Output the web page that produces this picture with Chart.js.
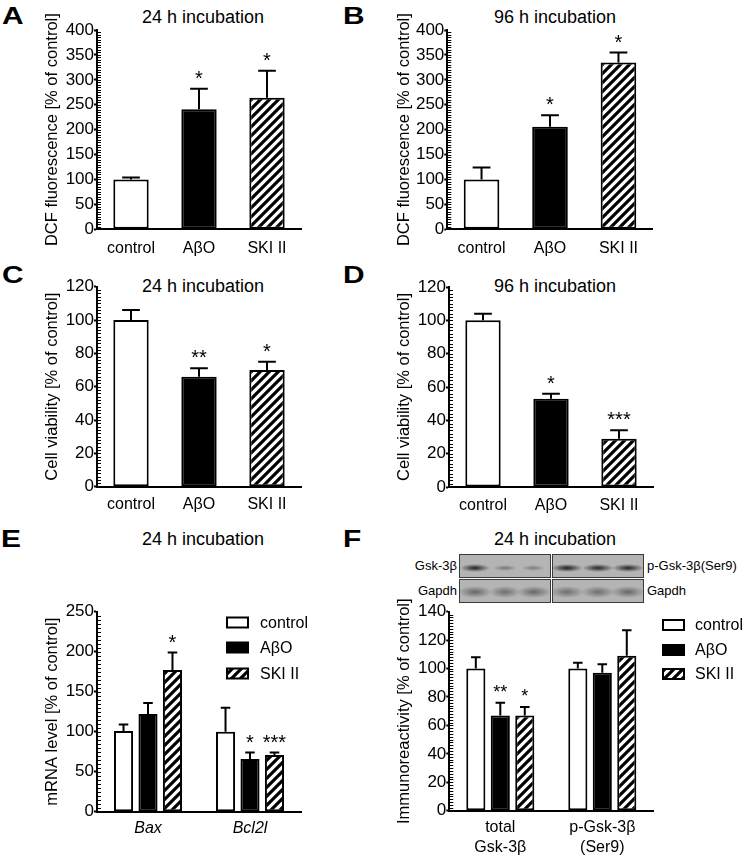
<!DOCTYPE html>
<html>
<head>
<meta charset="utf-8">
<script src="https://cdn.jsdelivr.net/npm/chart.js@4.4.1/dist/chart.umd.min.js"></script>
<style>
  body { margin: 0; background: #fff; }
  #fig { position: relative; width: 743px; height: 856px; overflow: hidden; font-family: 'Liberation Sans', Arial, sans-serif; color: #000; }
  #fig canvas { position: absolute; }
  .lbl { position: absolute; font-weight: bold; font-size: 23px; line-height: 23px; transform: scaleX(1.3); transform-origin: 0 0; }
  .ttl { position: absolute; font-size: 18px; line-height: 18px; white-space: nowrap; transform: translateX(-50%); }
  .bl { position: absolute; font-size: 13px; line-height: 13px; white-space: nowrap; }
  .blot { position: absolute; box-sizing: border-box; border: 1px solid #3a3a3a; background-color: #b4b4b4; }
</style>
</head>
<body>
<div id="fig">
  <div class="lbl" style="left:2px;top:5px">A</div>
  <div class="lbl" style="left:343px;top:5px">B</div>
  <div class="lbl" style="left:2px;top:264px">C</div>
  <div class="lbl" style="left:343px;top:264px">D</div>
  <div class="lbl" style="left:1px;top:528px">E</div>
  <div class="lbl" style="left:343px;top:528px">F</div>

  <div class="ttl" style="left:203px;top:8px">24 h incubation</div>
  <div class="ttl" style="left:555px;top:8px">96 h incubation</div>
  <div class="ttl" style="left:203px;top:277px">24 h incubation</div>
  <div class="ttl" style="left:555px;top:277px">96 h incubation</div>
  <div class="ttl" style="left:203px;top:530px">24 h incubation</div>
  <div class="ttl" style="left:555px;top:530px">24 h incubation</div>

  <!-- western blot strips -->
  <div class="blot" style="left:459px;top:554px;width:92px;height:24px;
    background-image:
      radial-gradient(ellipse 15px 4px at 15px 13px, rgba(25,25,25,.95), rgba(25,25,25,0)),
      radial-gradient(ellipse 12px 3px at 45px 13px, rgba(40,40,40,.45), rgba(40,40,40,0)),
      radial-gradient(ellipse 12px 3px at 73px 13px, rgba(40,40,40,.4), rgba(40,40,40,0));"></div>
  <div class="blot" style="left:552px;top:554px;width:92px;height:24px;
    background-image:
      radial-gradient(ellipse 16px 4px at 14px 13px, rgba(20,20,20,.95), rgba(20,20,20,0)),
      radial-gradient(ellipse 16px 4px at 45px 13px, rgba(20,20,20,.9), rgba(20,20,20,0)),
      radial-gradient(ellipse 16px 4px at 75px 13px, rgba(20,20,20,.9), rgba(20,20,20,0));"></div>
  <div class="blot" style="left:459px;top:579px;width:92px;height:24px;
    background-image:
      radial-gradient(ellipse 17px 6px at 15px 12px, rgba(50,50,50,.6), rgba(50,50,50,0)),
      radial-gradient(ellipse 16px 6px at 45px 12px, rgba(50,50,50,.55), rgba(50,50,50,0)),
      radial-gradient(ellipse 17px 6px at 74px 12px, rgba(50,50,50,.6), rgba(50,50,50,0));"></div>
  <div class="blot" style="left:552px;top:579px;width:92px;height:24px;
    background-image:
      radial-gradient(ellipse 17px 6px at 14px 12px, rgba(50,50,50,.55), rgba(50,50,50,0)),
      radial-gradient(ellipse 17px 6px at 45px 12px, rgba(50,50,50,.55), rgba(50,50,50,0)),
      radial-gradient(ellipse 17px 6px at 75px 12px, rgba(50,50,50,.6), rgba(50,50,50,0));"></div>
  <div class="bl" style="right:286px;top:559px">Gsk-3β</div>
  <div class="bl" style="right:286px;top:584px">Gapdh</div>
  <div class="bl" style="left:647px;top:559px">p-Gsk-3β(Ser9)</div>
  <div class="bl" style="left:647px;top:584px">Gapdh</div>
</div>

<script>
"use strict";

// DATA -----------------------
const groups = ['control', 'AβO', 'SKI II'];

// A: DCF fluorescence, 24 h
const dcf24Mean = [100, 241, 264];
const dcf24Sem = [4, 41, 54];
const dcf24Stars = ['', '*', '*'];

// B: DCF fluorescence, 96 h
const dcf96Mean = [100, 206, 335];
const dcf96Sem = [24, 23, 20];
const dcf96Stars = ['', '*', '*'];

// C: cell viability, 24 h
const via24Mean = [100, 66, 70];
const via24Sem = [6, 5, 5];
const via24Stars = ['', '**', '*'];

// D: cell viability, 96 h
const via96Mean = [100, 53, 29];
const via96Sem = [4, 3, 5];
const via96Stars = ['', '*', '***'];

// E: mRNA level
const genes = ['Bax', 'Bcl2l'];
const mrnaControl = [101, 100];
const mrnaControlSem = [8, 30];
const mrnaAbo = [122, 66];
const mrnaAboSem = [14, 8];
const mrnaSki = [177, 71];
const mrnaSkiSem = [22, 3];
const mrnaStars = [['', ''], ['', '*'], ['*', '***']];

// F: immunoreactivity
const proteins = [['total', 'Gsk-3β'], ['p-Gsk-3β', '(Ser9)']];
const gskControl = [100, 100];
const gskControlSem = [8, 4];
const gskAbo = [67, 97];
const gskAboSem = [9, 6];
const gskSki = [67, 109];
const gskSkiSem = [6, 18];
const gskStars = [['', ''], ['**', ''], ['*', '']];

// y tick labels
const dcfTicks = [0, 50, 100, 150, 200, 250, 300, 350, 400];
const viaTicks = [0, 20, 40, 60, 80, 100, 120];
const mrnaTicks = [0, 50, 100, 150, 200, 250];
const gskTicks = [0, 20, 40, 60, 80, 100, 120, 140];

// STYLE -----------------------
Chart.defaults.font.family = "'Liberation Sans', Arial, sans-serif";
Chart.defaults.color = '#000';

const fig = document.getElementById('fig');

// diagonal black/white hatch used for the SKI II bars
function makeHatch() {
  const c = document.createElement('canvas');
  c.width = 9;
  c.height = 9;
  const g = c.getContext('2d');
  g.fillStyle = '#fff';
  g.fillRect(0, 0, 9, 9);
  g.strokeStyle = '#000';
  g.lineWidth = 3.2;
  g.beginPath();
  g.moveTo(-1, 10); g.lineTo(10, -1);
  g.moveTo(-5.5, 5.5); g.lineTo(5.5, -5.5);
  g.moveTo(3.5, 14.5); g.lineTo(14.5, 3.5);
  g.stroke();
  return g.createPattern(c, 'repeat');
}
const hatch = makeHatch();
const fills = ['#ffffff', '#000000', hatch];

// error bars, significance stars, minor ticks and legend
const extras = {
  id: 'extras',
  afterDatasetsDraw(chart, args, opts) {
    const { ctx, chartArea, scales: { y } } = chart;
    ctx.save();

    // minor ticks on the inside of the y axis
    const ticks = opts.ticks;
    const step = (ticks[1] - ticks[0]) / 10;
    ctx.strokeStyle = '#000';
    ctx.lineWidth = 1;
    ctx.beginPath();
    for (let v = ticks[0] + step; v < ticks[ticks.length - 1]; v += step) {
      const py = Math.round(y.getPixelForValue(v)) + 0.5;
      ctx.moveTo(chartArea.left, py);
      ctx.lineTo(chartArea.left + 4, py);
    }
    ctx.stroke();

    // error bars (upper only) and stars
    ctx.lineWidth = 2;
    ctx.fillStyle = '#000';
    ctx.textAlign = 'center';
    ctx.textBaseline = 'alphabetic';
    ctx.font = opts.starSize + "px 'Liberation Sans', Arial, sans-serif";
    chart.data.datasets.forEach((ds, i) => {
      chart.getDatasetMeta(i).data.forEach((bar, j) => {
        const top = y.getPixelForValue(ds.data[j] + ds.sem[j]);
        const half = bar.width / 4;
        ctx.beginPath();
        ctx.moveTo(bar.x, bar.y);
        ctx.lineTo(bar.x, top);
        ctx.moveTo(bar.x - half, top);
        ctx.lineTo(bar.x + half, top);
        ctx.stroke();
        if (ds.stars[j]) {
          ctx.fillText(ds.stars[j], bar.x, top - 15.5 + 0.58 * opts.starSize);
        }
      });
    });

    // legend
    const lg = opts.legend;
    if (lg) {
      ctx.textAlign = 'left';
      ctx.textBaseline = 'middle';
      ctx.font = "16px 'Liberation Sans', Arial, sans-serif";
      chart.data.datasets.forEach((ds, i) => {
        const bx = lg.x - opts.box[0];
        const by = lg.rows[i] - opts.box[1];
        ctx.fillStyle = ds.backgroundColor;
        ctx.fillRect(bx, by - 5, 23, 10);
        ctx.lineWidth = 2;
        ctx.strokeRect(bx + 1, by - 5, 21, 10);
        ctx.fillStyle = '#000';
        ctx.fillText(ds.label, lg.textX - opts.box[0], by + 1);
      });
    }
    ctx.restore();
  }
};

// build one panel; box = canvas [left, top, w, h], plot = [left, top, right, bottom] in page px
function makePanel(p) {
  const [cl, ct, cw, ch] = p.box;
  const [pl, pt, pr, pb] = p.plot;
  const canvas = document.createElement('canvas');
  canvas.width = cw;
  canvas.height = ch;
  canvas.style.left = cl + 'px';
  canvas.style.top = ct + 'px';
  fig.appendChild(canvas);

  return new Chart(canvas, {
    type: 'bar',
    data: { labels: p.labels, datasets: p.datasets },
    options: {
      responsive: false,
      animation: false,
      devicePixelRatio: 1,
      layout: { padding: { left: 0, top: pt - ct, right: cl + cw - pr, bottom: 0 } },
      datasets: {
        bar: {
          borderColor: '#000',
          borderWidth: 2,
          borderSkipped: false,
          categoryPercentage: p.catPct,
          barPercentage: p.barPct
        }
      },
      plugins: {
        legend: { display: false },
        tooltip: { enabled: false },
        extras: { ticks: p.ticks, starSize: p.starSize || 20, legend: p.legend, box: p.box }
      },
      scales: {
        x: {
          grid: { display: false, drawTicks: false },
          border: { display: true, color: '#000', width: 2 },
          ticks: { color: '#000', padding: p.xPad, font: { size: 16, style: p.xStyle || 'normal', lineHeight: 1.25 } },
          afterFit: s => { s.height = ct + ch - pb; }
        },
        y: {
          min: p.ticks[0],
          max: p.ticks[p.ticks.length - 1],
          ticks: { stepSize: p.ticks[1] - p.ticks[0], color: '#000', padding: 0, font: { size: 17 } },
          grid: { display: true, drawOnChartArea: false, drawTicks: true, tickLength: 3, tickWidth: 2, tickColor: '#000' },
          border: { display: true, color: '#000', width: 2 },
          title: {
            display: true,
            text: p.yTitle,
            color: '#000',
            font: { size: 16.5 },
            padding: { top: p.titleX - cl - 9.9, bottom: 0 }
          },
          afterFit: s => { s.width = pl - cl; }
        }
      }
    },
    plugins: [extras]
  });
}

function singleSet(mean, sem, stars) {
  return [{ label: 'mean', data: mean, sem: sem, stars: stars, backgroundColor: fills }];
}

function groupSets(means, sems, stars) {
  return groups.map((g, i) => ({
    label: g, data: means[i], sem: sems[i], stars: stars[i], backgroundColor: fills[i]
  }));
}

// PANELS -----------------------
makePanel({
  box: [0, 0, 330, 266], plot: [97, 30, 301, 229.3], titleX: 52, xPad: 9.5,
  labels: groups, ticks: dcfTicks, catPct: 1, barPct: 0.52,
  yTitle: 'DCF fluorescence [% of control]',
  datasets: singleSet(dcf24Mean, dcf24Sem, dcf24Stars)
});

makePanel({
  box: [370, 0, 330, 266], plot: [447.3, 30, 652.7, 229.3], titleX: 404, xPad: 9.5,
  labels: groups, ticks: dcfTicks, catPct: 1, barPct: 0.52,
  yTitle: 'DCF fluorescence [% of control]',
  datasets: singleSet(dcf96Mean, dcf96Sem, dcf96Stars)
});

makePanel({
  box: [0, 272, 330, 248], plot: [97, 286.7, 301, 486.7], titleX: 52, xPad: 8,
  labels: groups, ticks: viaTicks, catPct: 1, barPct: 0.52,
  yTitle: 'Cell viability [% of control]',
  datasets: singleSet(via24Mean, via24Sem, via24Stars)
});

makePanel({
  box: [370, 272, 330, 248], plot: [449, 287, 653, 487], titleX: 404, xPad: 8.4,
  labels: groups, ticks: viaTicks, catPct: 1, barPct: 0.52,
  yTitle: 'Cell viability [% of control]',
  datasets: singleSet(via96Mean, via96Sem, via96Stars)
});

makePanel({
  box: [0, 595, 370, 261], plot: [97, 611.7, 301, 811.7], titleX: 52, xPad: 7,
  labels: genes, ticks: mrnaTicks, catPct: 0.72, barPct: 0.78, xStyle: 'italic',
  yTitle: 'mRNA level [% of control]',
  legend: { x: 226, rows: [622.5, 647.5, 673.5], textX: 260 },
  datasets: groupSets([mrnaControl, mrnaAbo, mrnaSki], [mrnaControlSem, mrnaAboSem, mrnaSkiSem], mrnaStars)
});

makePanel({
  box: [370, 595, 373, 261], plot: [449.3, 611.7, 653.3, 810.7], titleX: 404, xPad: 6.7, starSize: 18,
  labels: proteins, ticks: gskTicks, catPct: 0.72, barPct: 0.78,
  yTitle: 'Immunoreactivity [% of control]',
  legend: { x: 662, rows: [625, 650, 674], textX: 695 },
  datasets: groupSets([gskControl, gskAbo, gskSki], [gskControlSem, gskAboSem, gskSkiSem], gskStars)
});
</script>
</body>
</html>
